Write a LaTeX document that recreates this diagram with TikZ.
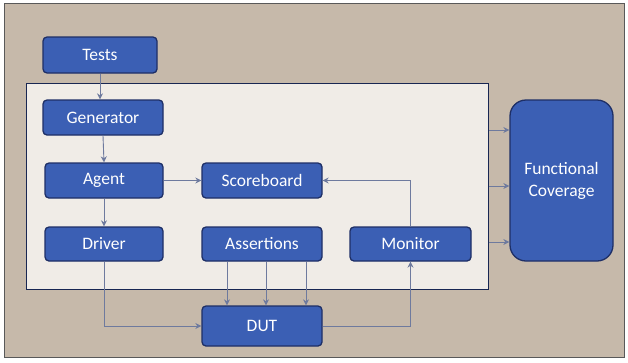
\documentclass[tikz,border=0pt]{standalone}
\usepackage{fontspec}
\setmainfont{Carlito}
\usetikzlibrary{arrows.meta}
\definecolor{tanbg}{HTML}{C6B9AA}
\definecolor{panelbg}{HTML}{F0ECE7}
\definecolor{boxfill}{HTML}{3B5FB4}
\definecolor{boxline}{HTML}{1E2F66}
\definecolor{arrcol}{HTML}{6E7A9E}
\tikzset{
  box/.style={draw=boxline, line width=1.3pt, fill=boxfill, rounded corners=4pt,
    text=white, font=\fontsize{17.5}{20}\selectfont, inner sep=0pt},
  arr/.style={draw=arrcol, line width=0.9pt, -{Stealth[length=6pt,width=6pt]}},
}
\begin{document}
\begin{tikzpicture}[x=1pt,y=-1pt]
\useasboundingbox (0,0) rectangle (628,362);
\fill[white] (0,0) rectangle (628,362);
\draw[fill=tanbg, draw=gray!70!black, line width=0.8pt] (4,3) rectangle (624,357);
\node[draw=boxline!80!black, line width=1pt, fill=panelbg, minimum width=462pt, minimum height=206pt, inner sep=0pt] (panel) at (257,186) {};
\node[box, minimum width=114pt, minimum height=36pt] (tests) at (100,55) {Tests};
\node[box, minimum width=120pt, minimum height=35pt] (generator) at (103,117.5) {Generator};
\node[box, minimum width=118pt, minimum height=35pt] (agent) at (104,180.5) {Agent};
\node[box, minimum width=120pt, minimum height=35pt] (scoreboard) at (262,180.5) {Scoreboard};
\node[box, minimum width=118pt, minimum height=34pt] (driver) at (104,244) {Driver};
\node[box, minimum width=120pt, minimum height=34pt] (assertions) at (262,244) {Assertions};
\node[box, minimum width=121pt, minimum height=34pt] (monitor) at (410.5,244) {Monitor};
\node[box, minimum width=120pt, minimum height=40pt] (dut) at (262,326) {DUT};
\node[box, rounded corners=16pt, minimum width=103pt, minimum height=161pt, align=center, font=\fontsize{17.5}{22}\selectfont] (fc) at (561.5,180.5) {Functional\\Coverage};

\draw[arr] (tests.south) -- (generator.north -| tests.south);
\draw[arr] (generator.south) -- (agent.north);
\draw[arr] (agent.east) -- (scoreboard.west);
\draw[arr] (agent.south) -- (driver.north);
\draw[arr] (driver.south) |- (dut.west);
\foreach \xx in {227,266,306}{
  \draw[arr] (assertions.south -| \xx,0) -- (dut.north -| \xx,0);
}
\draw[arr] (dut.east) -| (monitor.south);
\draw[arr] (monitor.north) |- (scoreboard.east);
\foreach \yy in {130,186,242}{
  \draw[arr] (panel.east |- 0,\yy) -- (fc.west |- 0,\yy);
}
\end{tikzpicture}
\end{document}
